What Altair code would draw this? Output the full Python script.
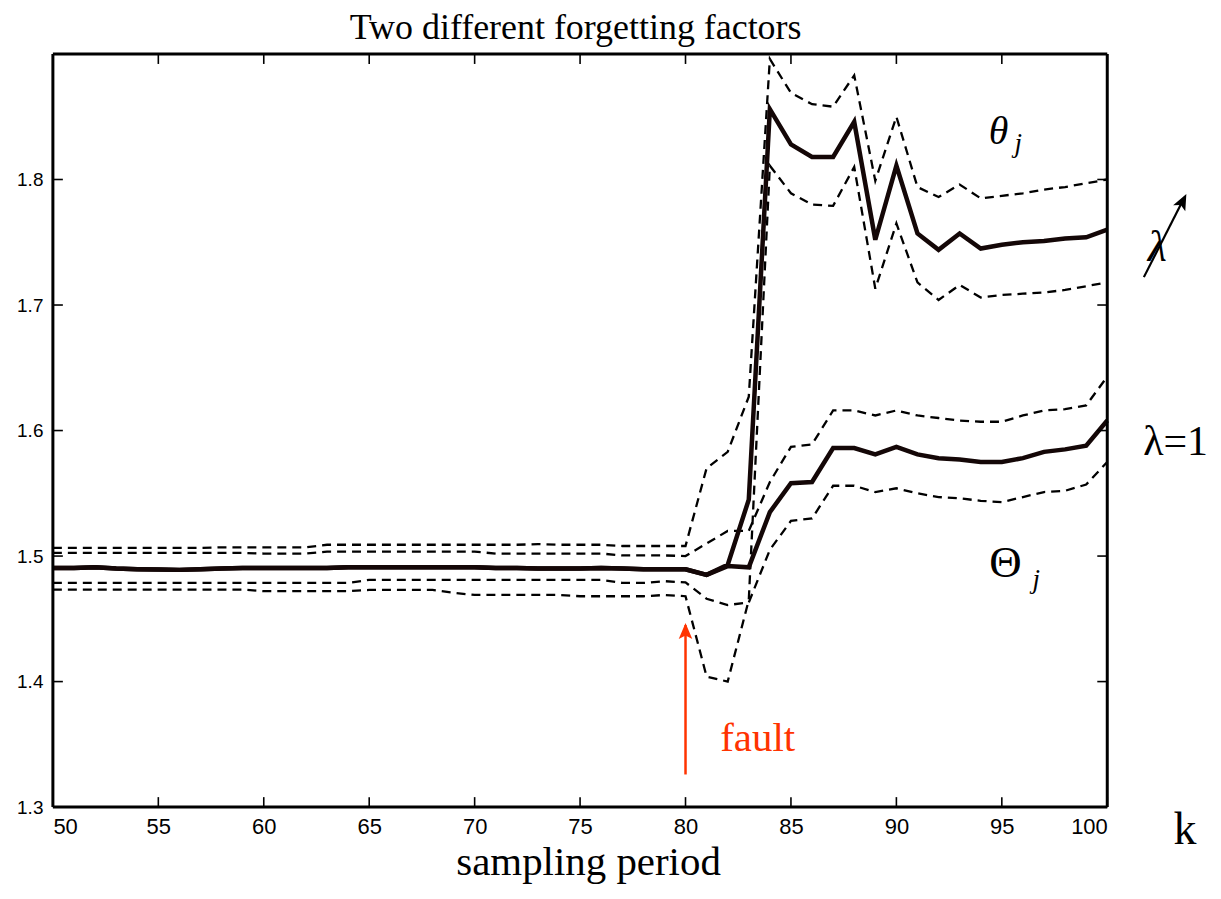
import altair as alt
import pandas as pd

# ---------------- data ----------------
k = list(range(50, 101))
x_ticks = [50, 55, 60, 65, 70, 75, 80, 85, 90, 95, 100]
y_ticks = [1.3, 1.4, 1.5, 1.6, 1.7, 1.8]

# theta_j : estimate with forgetting factor (lambda varying)
theta_mean = [1.4905, 1.4905, 1.491, 1.490, 1.4895, 1.4893, 1.489, 1.4895, 1.490, 1.4905,
              1.4905, 1.4905, 1.4905, 1.4905, 1.491, 1.491, 1.491, 1.491, 1.491, 1.491,
              1.491, 1.4905, 1.4905, 1.490, 1.490, 1.490, 1.4905, 1.490, 1.4895, 1.4895,
              1.4895,
              1.485, 1.493, 1.545, 1.856, 1.828, 1.818, 1.818, 1.846, 1.752, 1.811,
              1.757, 1.744, 1.757, 1.745, 1.748, 1.750, 1.751, 1.753, 1.754, 1.760]
theta_upper = [1.5065, 1.5065, 1.5065, 1.5065, 1.5065, 1.5065, 1.5065, 1.5065, 1.507, 1.507,
               1.507, 1.507, 1.507, 1.509, 1.509, 1.509, 1.509, 1.509, 1.509, 1.509,
               1.509, 1.509, 1.509, 1.5095, 1.509, 1.509, 1.509, 1.508, 1.508, 1.508,
               1.508,
               1.570, 1.583, 1.627, 1.896, 1.869, 1.860, 1.858, 1.883, 1.799, 1.850,
               1.794, 1.786, 1.796, 1.785, 1.787, 1.789, 1.792, 1.794, 1.797, 1.800]
theta_lower = [1.4733, 1.4733, 1.4733, 1.4733, 1.4733, 1.4733, 1.4733, 1.4733, 1.4733, 1.4733,
               1.472, 1.472, 1.472, 1.472, 1.472, 1.473, 1.473, 1.473, 1.473, 1.4707,
               1.469, 1.469, 1.469, 1.469, 1.469, 1.468, 1.468, 1.468, 1.468, 1.469,
               1.468,
               1.404, 1.400, 1.465, 1.811, 1.789, 1.780, 1.779, 1.810, 1.713, 1.765,
               1.718, 1.704, 1.716, 1.706, 1.708, 1.709, 1.710, 1.712, 1.715, 1.718]

# Theta_j : estimate with lambda = 1
Theta_mean = [1.4905, 1.4905, 1.491, 1.490, 1.4895, 1.4893, 1.489, 1.4895, 1.490, 1.4905,
              1.4905, 1.4905, 1.4905, 1.4905, 1.491, 1.491, 1.491, 1.491, 1.491, 1.491,
              1.491, 1.4905, 1.4905, 1.490, 1.490, 1.490, 1.4905, 1.490, 1.4895, 1.4895,
              1.4895,
              1.485, 1.492, 1.491, 1.535, 1.558, 1.559, 1.586, 1.586, 1.581, 1.587,
              1.581, 1.578, 1.577, 1.575, 1.575, 1.578, 1.583, 1.585, 1.588, 1.608]
Theta_upper = [1.5025, 1.5025, 1.5025, 1.5025, 1.5025, 1.5025, 1.5025, 1.5025, 1.5025, 1.5025,
               1.502, 1.502, 1.502, 1.5035, 1.5035, 1.5035, 1.5035, 1.5035, 1.5035, 1.5035,
               1.5035, 1.502, 1.502, 1.502, 1.502, 1.502, 1.502, 1.5005, 1.5005, 1.5005,
               1.500,
               1.510, 1.520, 1.520, 1.559, 1.587, 1.589, 1.616, 1.616, 1.612, 1.616,
               1.612, 1.610, 1.608, 1.607, 1.607, 1.612, 1.616, 1.617, 1.620, 1.643]
Theta_lower = [1.4786, 1.4786, 1.4786, 1.4786, 1.4786, 1.4786, 1.4786, 1.4786, 1.4786, 1.4786,
               1.4786, 1.4786, 1.4786, 1.4786, 1.4786, 1.481, 1.481, 1.481, 1.481, 1.481,
               1.481, 1.481, 1.481, 1.481, 1.481, 1.481, 1.481, 1.4786, 1.4786, 1.480,
               1.479,
               1.466, 1.461, 1.463, 1.505, 1.528, 1.530, 1.556, 1.556, 1.551, 1.554,
               1.550, 1.547, 1.546, 1.544, 1.543, 1.547, 1.551, 1.552, 1.557, 1.575]

series = [
    ("theta_upper", theta_upper, "bound"),
    ("theta_lower", theta_lower, "bound"),
    ("Theta_upper", Theta_upper, "bound"),
    ("Theta_lower", Theta_lower, "bound"),
    ("theta_mean", theta_mean, "mean"),
    ("Theta_mean", Theta_mean, "mean"),
]
rows = []
for name, vals, kind in series:
    for kk, v in zip(k, vals):
        rows.append({"k": kk, "v": v, "series": name, "kind": kind})
df = pd.DataFrame(rows)

# ---------------- layout ----------------
W, H = 1057, 755
SERIF = "Liberation Serif, Times New Roman, serif"
NARROW = "Liberation Sans Narrow, Arial Narrow, Liberation Sans, sans-serif"
SANS = "Liberation Sans, Arial, sans-serif"
FAULT_RED = "#ff3300"
ARROW_PATH = "M0,-1L0.85,1L0,0.55L-0.85,1Z"

x_scale = alt.Scale(domain=[50, 100], nice=False, zero=False)
y_scale = alt.Scale(domain=[1.3, 1.9], nice=False, zero=False)
x_axis = alt.Axis(values=x_ticks, ticks=False, domain=False, grid=False, title=None,
                  labelFont=NARROW, labelFontSize=22, labelPadding=9, labelColor="black")
y_axis = alt.Axis(values=y_ticks, ticks=False, domain=False, grid=False, title=None, format=".1f",
                  labelFont=SANS, labelFontSize=19, labelPadding=10, labelColor="black")


def X(field):
    return alt.X(field, type="quantitative", scale=x_scale, axis=x_axis)


def Y(field):
    return alt.Y(field, type="quantitative", scale=y_scale, axis=y_axis)


bounds = alt.Chart(df).transform_filter(alt.datum.kind == "bound").mark_line(
    strokeDash=[9, 6], strokeWidth=2.3, color="black"
).encode(x=X("k"), y=Y("v"), detail="series:N")

means = alt.Chart(df).transform_filter(alt.datum.kind == "mean").mark_line(
    strokeWidth=4.5, color="#140707"
).encode(x=X("k"), y=Y("v"), detail="series:N")

# frame drawn as rules on all four sides
frame = alt.Chart(pd.DataFrame({"a": [0]})).mark_rule(color="black", strokeWidth=3)
frame_layers = [
    frame.encode(x=alt.value(0), x2=alt.value(W), y=alt.value(H)),
    frame.encode(x=alt.value(0), x2=alt.value(W), y=alt.value(0)),
    frame.encode(x=alt.value(0), y=alt.value(0), y2=alt.value(H)),
    frame.encode(x=alt.value(W), y=alt.value(0), y2=alt.value(H)),
]

# inward tick marks on all four sides
xt = pd.DataFrame({"k": x_ticks})
yt = pd.DataFrame({"v": y_ticks})
tick_bottom = alt.Chart(xt).mark_rule(color="black", strokeWidth=1.6).encode(
    x=X("k"), y=alt.value(H), y2=alt.value(H - 10))
tick_top = alt.Chart(xt).mark_rule(color="black", strokeWidth=1.6).encode(
    x=X("k"), y=alt.value(0), y2=alt.value(10))
tick_left = alt.Chart(yt).mark_rule(color="black", strokeWidth=1.6).encode(
    y=Y("v"), x=alt.value(0), x2=alt.value(10))
tick_right = alt.Chart(yt).mark_rule(color="black", strokeWidth=1.6).encode(
    y=Y("v"), x=alt.value(W - 10), x2=alt.value(W))

# fault arrow
fault = pd.DataFrame({"k": [80], "y0": [1.326], "y1": [1.445]})
fault_line = alt.Chart(fault).mark_rule(color=FAULT_RED, strokeWidth=2.5).encode(
    x=X("k"), y=Y("y0"), y2="y1:Q")
fault_head = alt.Chart(fault).mark_point(
    shape=ARROW_PATH, filled=True, size=256, color=FAULT_RED, opacity=1, strokeWidth=0, yOffset=6
).encode(x=X("k"), y=Y("y1"))


def label(text, x, y, size, align="left", font=SERIF, style="normal", color="black"):
    return alt.Chart(pd.DataFrame({"t": [text]})).mark_text(
        font=font, fontSize=size, fontStyle=style, align=align, baseline="alphabetic", color=color
    ).encode(text="t:N", x=alt.value(x), y=alt.value(y))


texts = [
    label("Two different forgetting factors", 524, -15, 36, align="center"),
    label("sampling period", 537, 823, 41, align="center"),
    label("k", 1135, 792, 46, align="center"),
    label("fault", 669, 699, 41, color=FAULT_RED),
    label("θ", 948, 90, 40, align="center", style="italic"),
    label("j", 964, 98, 27, style="italic"),
    label("Θ", 955, 524, 45, align="center"),
    label("j", 982, 535, 27, style="italic"),
    label("λ=1", 1093, 402, 42),
    label("λ", 1107, 208, 44, align="center", style="italic"),
]

lam_line = alt.Chart(pd.DataFrame({"a": [0]})).mark_rule(color="black", strokeWidth=2.2).encode(
    x=alt.value(1093.7), y=alt.value(223.7), x2=alt.value(1132.5), y2=alt.value(147.5))
lam_head = alt.Chart(pd.DataFrame({"a": [0]})).mark_point(
    shape=ARROW_PATH, filled=True, size=256, color="black", opacity=1, strokeWidth=0, angle=26.57
).encode(x=alt.value(1132.7), y=alt.value(147.5))

chart = alt.layer(
    bounds, means, *frame_layers, tick_bottom, tick_top, tick_left, tick_right,
    fault_line, fault_head, lam_line, lam_head, *texts
).properties(
    width=W, height=H,
    autosize=alt.AutoSizeParams(type="none"),
    padding={"left": 45, "top": 45, "right": 106, "bottom": 78},
).configure(background="white").configure_view(strokeWidth=0)

chart.save("out.html", embed_options={"renderer": "svg", "actions": False})
